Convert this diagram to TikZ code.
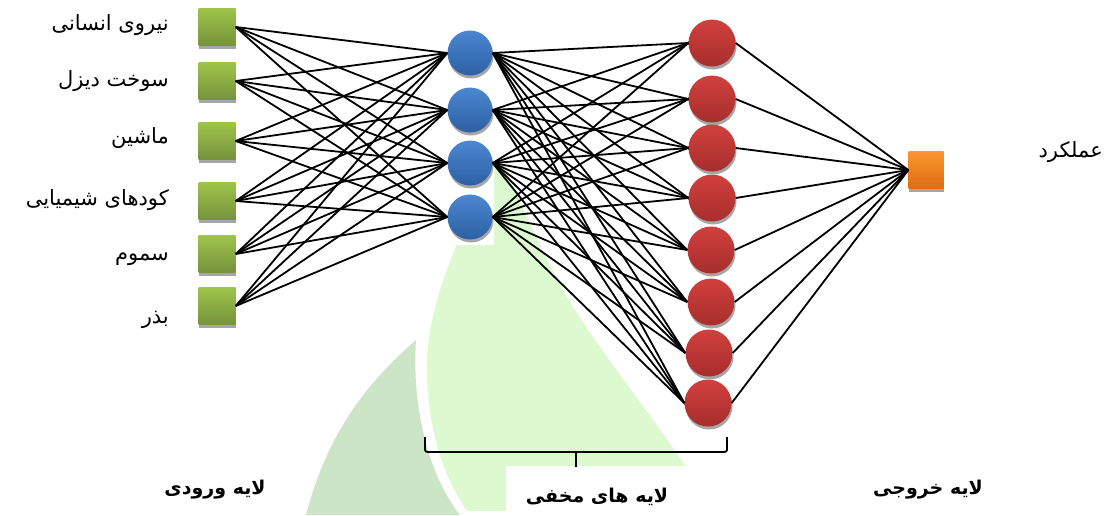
\documentclass[tikz,border=0pt]{standalone}
\usepackage{fontspec}
\usetikzlibrary{positioning,shadows,calc}
\newfontfamily\arabicfont[Script=Arabic]{DejaVu Sans}
\TeXXeTstate=1
\definecolor{leafdark}{RGB}{204,229,199}
\definecolor{leaflight}{RGB}{220,249,208}

\begin{document}
\begin{tikzpicture}[x=1pt,y=1pt]
      \tikzstyle{inp}=[rectangle, minimum width=37pt, minimum height=37pt, inner sep=0pt, top color={rgb,255:red,158;green,196;blue,74}, bottom color={rgb,255:red,118;green,146;blue,60}, drop shadow={shadow xshift=0pt, shadow yshift=-3pt, fill=black!35, opacity=1}]
      \tikzstyle{hid}=[circle, minimum size=45pt, inner sep=0pt, top color={rgb,255:red,76;green,135;blue,208}, bottom color={rgb,255:red,44;green,96;blue,164}, drop shadow={shadow xshift=1pt, shadow yshift=-3pt, fill=black!35, opacity=1}]
      \tikzstyle{outn}=[circle, minimum size=47pt, inner sep=0pt, top color={rgb,255:red,210;green,64;blue,62}, bottom color={rgb,255:red,166;green,46;blue,44}, drop shadow={shadow xshift=1pt, shadow yshift=-3pt, fill=black!35, opacity=1}]
      \tikzstyle{res}=[rectangle, minimum width=35pt, minimum height=37pt, inner sep=0pt, top color={rgb,255:red,250;green,150;blue,46}, bottom color={rgb,255:red,222;green,108;blue,20}, drop shadow={shadow xshift=0pt, shadow yshift=-3pt, fill=black!35, opacity=1}]
      \tikzstyle{connect}=[line width=1.8pt, black]
      \tikzstyle{lbl}=[anchor=east, inner sep=0pt, font=\arabicfont\fontsize{21}{25}\selectfont]
      \tikzstyle{layer}=[inner sep=0pt, font=\arabicfont\bfseries\fontsize{19}{23}\selectfont]

      \useasboundingbox (0,0) rectangle (1108,-515);

      \fill[leafdark] (306,-515) .. controls (328,-430) and (370,-380) .. (416,-340)
        .. controls (412,-400) and (425,-470) .. (460,-515) -- cycle;
      \filldraw[fill=leaflight, draw=white, line width=8pt] (500,-150) .. controls (470,-200) and (425,-290) .. (423,-360)
        .. controls (422,-430) and (440,-480) .. (465,-515) -- (722,-515)
        .. controls (665,-420) and (592,-340) .. (557,-270) .. controls (532,-220) and (515,-180) .. (500,-150);
      \fill[white] (445,-28) rectangle (494,-245);
      \fill[white] (506,-466) rectangle (722,-515);

      \node[inp] (i1) at (217,-27) {};
      \node[inp] (i2) at (217,-81) {};
      \node[inp] (i3) at (217,-141) {};
      \node[inp] (i4) at (217,-201) {};
      \node[inp] (i5) at (217,-254) {};
      \node[inp] (i6) at (217,-306) {};

      \node[hid] (h1) at (470,-53) {};
      \node[hid] (h2) at (470,-110) {};
      \node[hid] (h3) at (470,-163) {};
      \node[hid] (h4) at (470,-217) {};

      \node[outn] (o1) at (712,-43) {};
      \node[outn] (o2) at (712,-99) {};
      \node[outn] (o3) at (712,-148) {};
      \node[outn] (o4) at (712,-198) {};
      \node[outn] (o5) at (711,-250) {};
      \node[outn] (o6) at (711,-302) {};
      \node[outn] (o7) at (709,-353) {};
      \node[outn] (o8) at (708,-403) {};

      \node[res] (y) at (926,-170) {};

      \foreach \i in {1,...,6}
        \foreach \j in {1,...,4}
          \path (i\i.east) edge [connect] (h\j.west);
      \foreach \j in {1,...,4}
        \foreach \k in {1,...,8}
          \path (h\j.east) edge [connect] (o\k.west);
      \foreach \k in {1,...,8}
        \path (o\k.east) edge [connect] (y.west);

      \node[lbl] (t1) at (169,-25) {\beginR نیروی انسانی\endR};
      \node[lbl] (t2) at (169,-81) {\beginR سوخت دیزل\endR};
      \node[lbl] (t3) at (169,-138) {\beginR ماشین\endR};
      \node[lbl] (t4) at (169,-200) {\beginR کودهای شیمیایی\endR};
      \node[lbl] (t5) at (169,-259) {\beginR سموم\endR};
      \node[lbl] (t6) at (169,-320) {\beginR بذر\endR};
      \node[lbl] (ty) at (1103,-152) {\beginR عملکرد\endR};

      \coordinate (bl) at (425,-437);
      \coordinate (br) at (727,-437);
      \coordinate (bm) at (576,-452);
      \draw[line width=1.8pt] (bl) -- ++(0,-13) to[out=-90,in=180] ++(3,-2) -- ($(br)+(-3,-15)$) to[out=0,in=-90] ++(3,2) -- (br);
      \draw[line width=1.8pt] (bm) -- ++(0,-15);

      \node[layer] (li) at (215,-490) {\beginR لایه ورودی\endR};
      \node[layer] (lh) at (597,-497) {\beginR لایه های مخفی\endR};
      \node[layer] (lo) at (928,-490) {\beginR لایه خروجی\endR};
\end{tikzpicture}
\end{document}
